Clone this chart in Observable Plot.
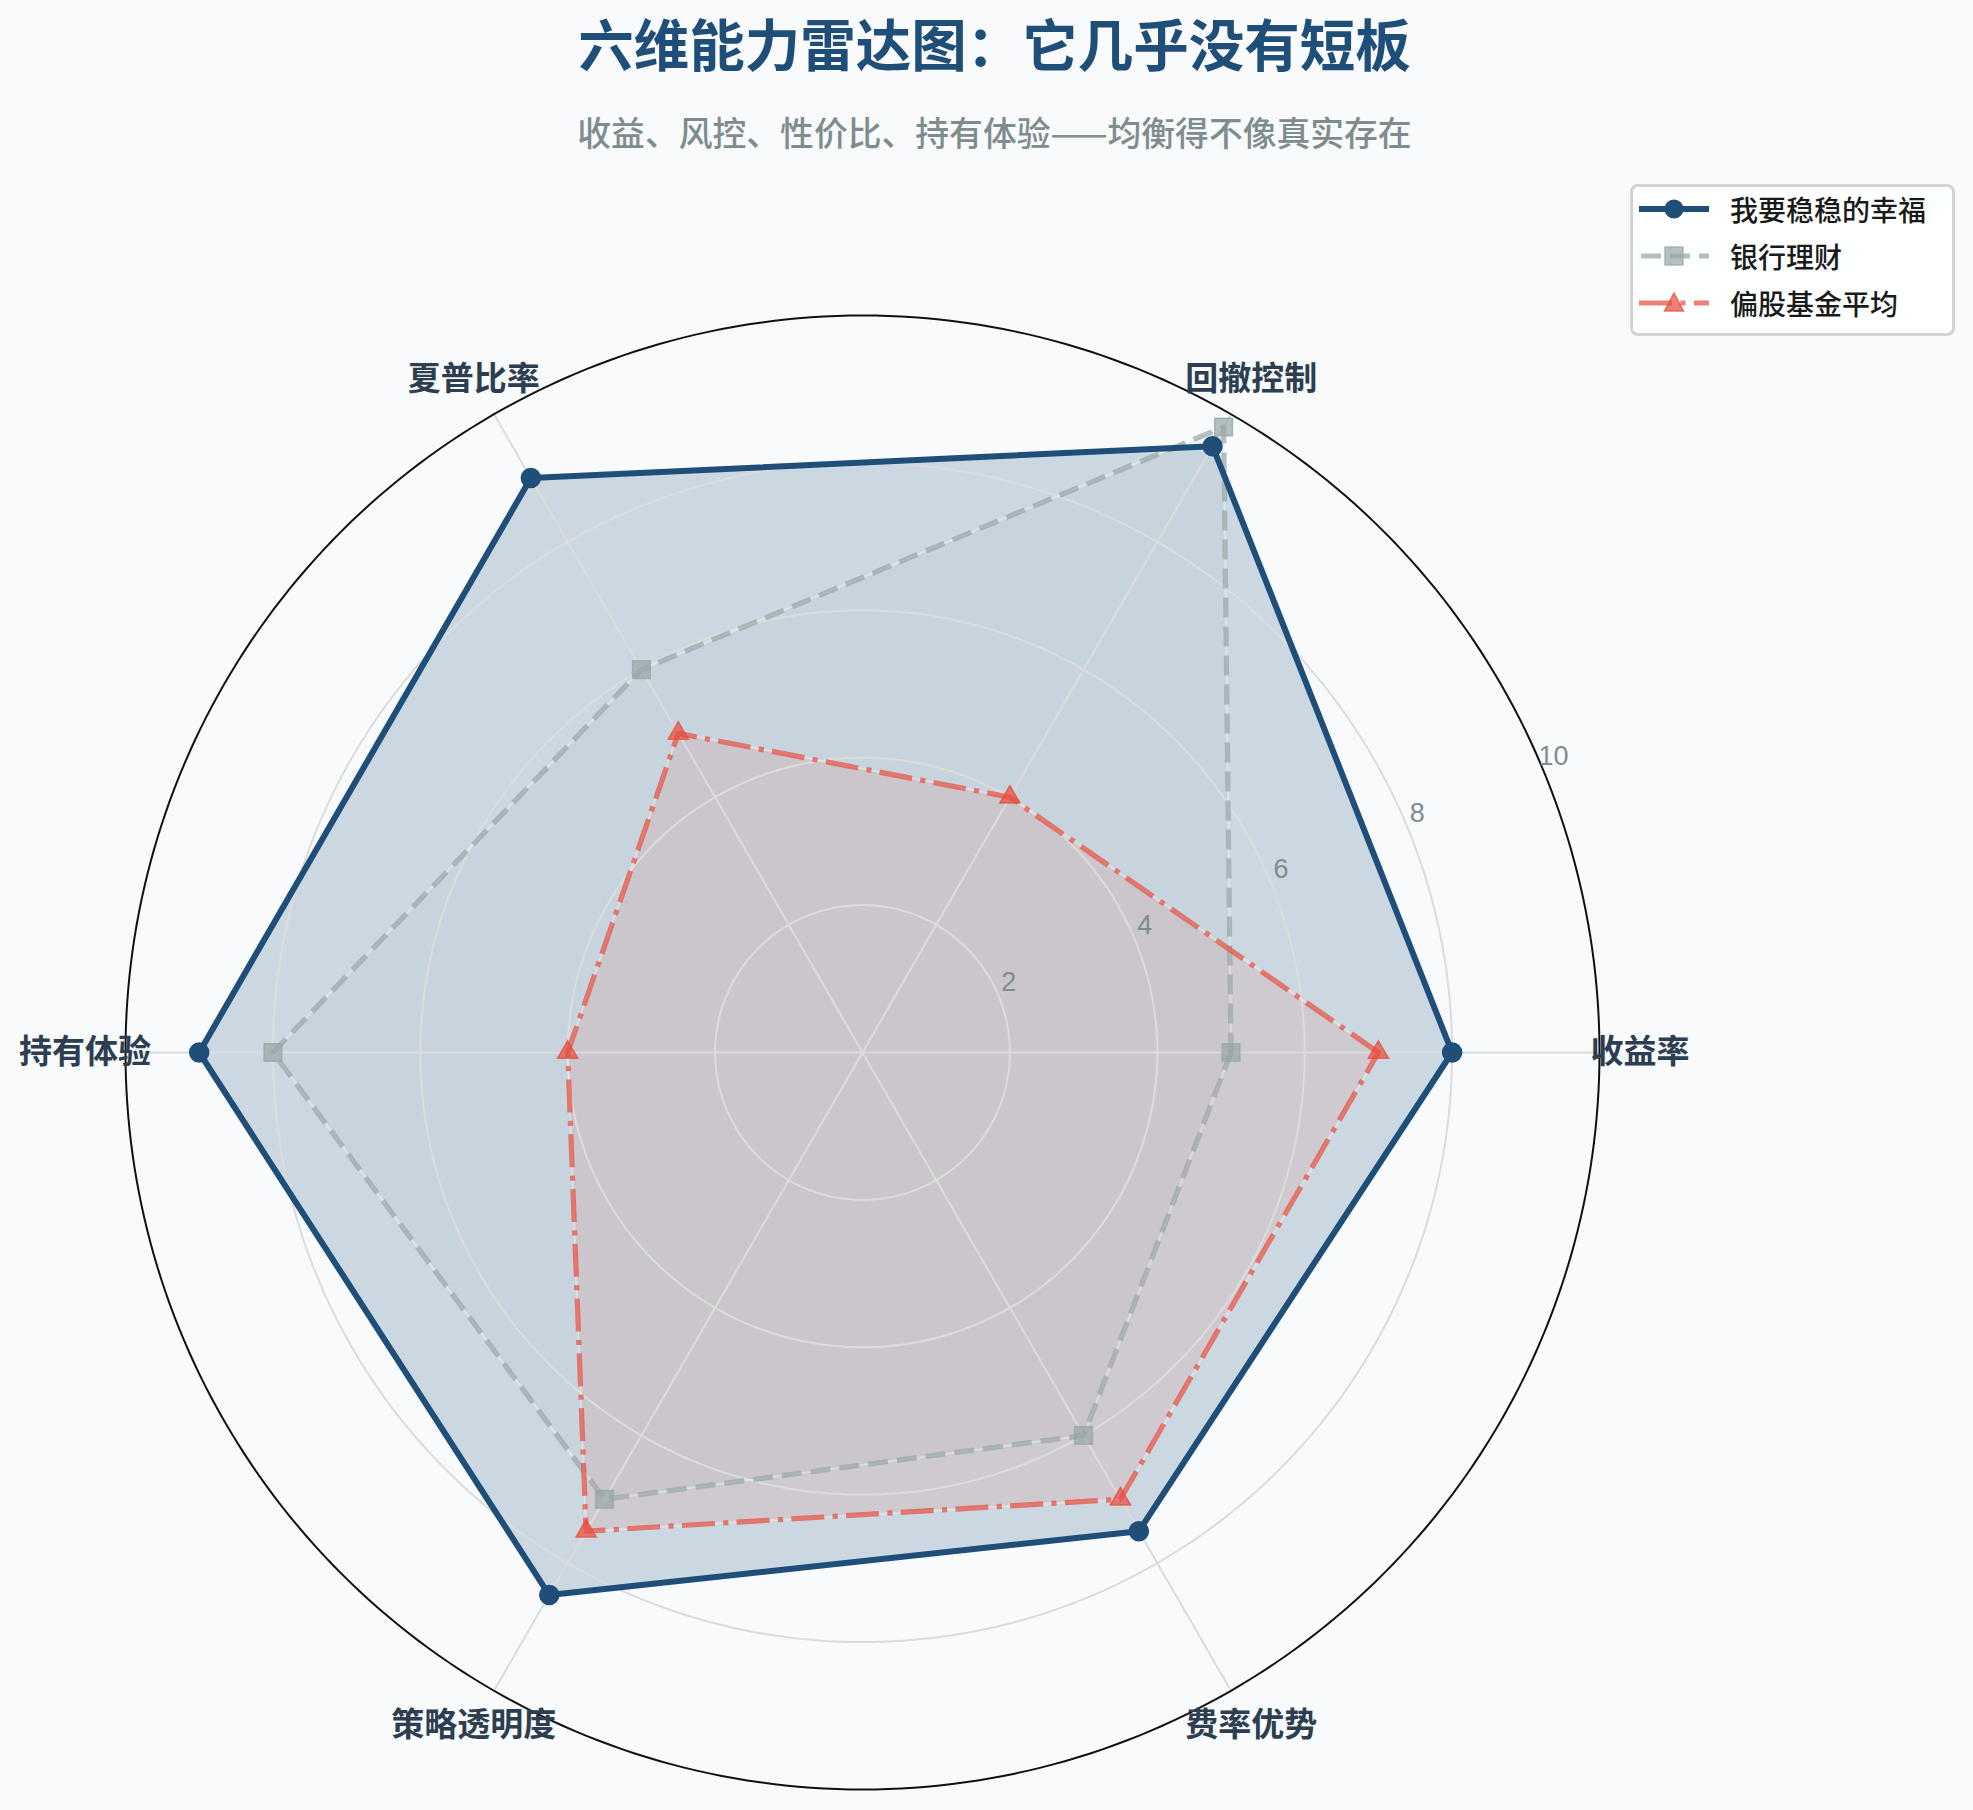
<!DOCTYPE html>
<html><head><meta charset="utf-8">
<script src="https://cdn.jsdelivr.net/npm/d3@7"></script>
<script src="https://cdn.jsdelivr.net/npm/@observablehq/plot@0.6"></script>
<style>
html,body{margin:0;padding:0;background:#f8fafc;}
body{width:1973px;height:1810px;position:relative;overflow:hidden;font-family:"Noto Sans CJK SC","Noto Sans",sans-serif;}
#header{position:relative;height:170px;}
#title{position:absolute;left:16px;right:0;top:15px;text-align:center;font-size:55.5px;font-weight:700;color:#1f4e79;line-height:1;}
#subtitle{position:absolute;left:16px;right:0;top:115px;text-align:center;font-size:33.8px;font-weight:500;color:#7f8c8d;line-height:1;}
#legend{position:absolute;left:1630px;top:184px;width:319px;height:146px;border:3px solid #d2d2d2;border-radius:8px;background:rgba(255,255,255,0.85);z-index:2;}
.row{position:absolute;left:6px;height:40px;display:flex;align-items:center;}
.row svg{display:block;}
.row span{font-size:28px;font-weight:500;color:#1a1a1a;margin-left:21px;line-height:1;white-space:nowrap;}
#chart{position:relative;}
</style></head>
<body>
<div id="header">
  <div id="title"></div>
  <div id="subtitle"></div>
</div>
<div id="legend"></div>
<div id="chart"></div>
<script>
// ---------- data ----------
const titleText = "六维能力雷达图：它几乎没有短板";
const subtitleText = "收益、风控、性价比、持有体验——均衡得不像真实存在";
const axes = ["收益率", "回撤控制", "夏普比率", "持有体验", "策略透明度", "费率优势"];
const seriesNames = ["我要稳稳的幸福", "银行理财", "偏股基金平均"];
const mine   = [8.0, 9.5, 9.0, 9.0, 8.5, 7.5];
const bank   = [5.0, 9.8, 6.0, 8.0, 7.0, 6.0];
const equity = [7.0, 4.0, 5.0, 4.0, 7.5, 7.0];
const ringTicks = [2, 4, 6, 8, 10];
const tickLabels = ["2", "4", "6", "8", "10"];

// ---------- styles / layout ----------
const rMax = 10;
const labelRadius = 10.55;
const tickAngle = 22.5 * Math.PI / 180;
const W = 1973, H = 1640, cx = 862, cy = 882, unit = 73.7;
const colors = ["#1f4e79", "#95a5a6", "#e74c3c"];
const fillOpacity = [0.2, 0.07, 0.1];
const seriesValues = [mine, bank, equity];

document.getElementById("title").textContent = titleText;
document.getElementById("subtitle").textContent = subtitleText;

const angle = i => i * 2 * Math.PI / axes.length;
const rows = seriesNames.flatMap((s, si) => axes.map((a, i) => ({
  series: s, axis: a, value: seriesValues[si][i],
  x: seriesValues[si][i] * Math.cos(angle(i)),
  y: seriesValues[si][i] * Math.sin(angle(i))
})));
const bySeries = s => rows.filter(d => d.series === s);

const ringPts = ringTicks.flatMap(r => d3.range(0, 361, 1).map(deg => ({
  r, x: r * Math.cos(deg * Math.PI / 180), y: r * Math.sin(deg * Math.PI / 180)
})));
const spokes = axes.map((a, i) => ({axis: a, i}));
const tickData = ringTicks.map((r, k) => ({r, label: tickLabels[k]}));

const lineStyles = [
  {strokeWidth: 6, dash: null},
  {strokeWidth: 5.2, dash: "20,9"},
  {strokeWidth: 5.2, dash: "33,8.3,5.2,8.3"}
];
const strokeOpacity = [1, 0.7, 0.7];
const symbols = ["circle", "square", "triangle"];
const symbolR = [9.5, 10, 7.5];

const marks = [];
// fills
seriesNames.forEach((s, si) => {
  marks.push(Plot.line(bySeries(s), {x: "x", y: "y", curve: "linear-closed",
    fill: colors[si], fillOpacity: fillOpacity[si], stroke: "none"}));
});
// grid
marks.push(Plot.line(ringPts.filter(d => d.r < rMax), {x: "x", y: "y", z: "r", stroke: "#dcdcdc", strokeWidth: 2}));
marks.push(Plot.link(spokes, {x1: () => 0, y1: () => 0,
  x2: d => rMax * Math.cos(angle(d.i)), y2: d => rMax * Math.sin(angle(d.i)),
  stroke: "#dcdcdc", strokeWidth: 2}));
marks.push(Plot.line(ringPts.filter(d => d.r === rMax), {x: "x", y: "y", stroke: "#111", strokeWidth: 2}));
// lines: bank, equity, then mine on top
[1, 2, 0].forEach(si => {
  const s = seriesNames[si];
  const st = lineStyles[si];
  if (st.dash) {
    marks.push(Plot.line(bySeries(s), {x: "x", y: "y", curve: "linear-closed",
      stroke: "#ffffff", strokeOpacity: 0.35, strokeWidth: 2}));
  }
  marks.push(Plot.line(bySeries(s), {x: "x", y: "y", curve: "linear-closed",
    stroke: colors[si], strokeOpacity: strokeOpacity[si], strokeWidth: st.strokeWidth,
    strokeDasharray: st.dash || undefined, strokeLinecap: st.dash ? "butt" : "round", strokeLinejoin: "round"}));
  marks.push(Plot.dot(bySeries(s), {x: "x", y: "y", symbol: symbols[si], r: symbolR[si],
    fill: colors[si], fillOpacity: si === 0 ? 1 : 0.7, stroke: colors[si], strokeOpacity: si === 0 ? 1 : 0.75, strokeWidth: 1.5}));
});
// axis labels
marks.push(Plot.text(spokes, {x: d => labelRadius * Math.cos(angle(d.i)), y: d => labelRadius * Math.sin(angle(d.i)),
  text: "axis", fontSize: 33, fontWeight: 600, fill: "#2c3e50", textAnchor: "middle", lineAnchor: "middle"}));
// radial tick labels
marks.push(Plot.text(tickData, {x: d => d.r * Math.cos(tickAngle), y: d => d.r * Math.sin(tickAngle),
  text: "label", fontSize: 27, fill: "#7f8c8d", textAnchor: "middle", lineAnchor: "middle", dx: 10, dy: -14,
  fontFamily: "'Liberation Sans', Arial, sans-serif"}));

const chart = Plot.plot({
  width: W, height: H, margin: 0,
  x: {domain: [-cx / unit, (W - cx) / unit], axis: null},
  y: {domain: [-(H - cy) / unit, cy / unit], axis: null},
  style: {background: "transparent", fontFamily: "'Noto Sans CJK SC', 'Noto Sans', sans-serif", overflow: "visible"},
  marks
});
document.getElementById("chart").appendChild(chart);

// legend
const legend = document.getElementById("legend");
const rowCenters = [22, 69, 116];
const swatchSvg = si => {
  const c = colors[si];
  let s = `<svg width="70" height="40" viewBox="0 0 70 40">`;
  if (si === 0) {
    s += `<line x1="0" x2="70" y1="20" y2="20" stroke="${c}" stroke-width="6"/>`;
    s += `<circle cx="35" cy="20" r="9.5" fill="${c}"/>`;
  } else if (si === 1) {
    s += `<line x1="2" x2="70" y1="20" y2="20" stroke="${c}" stroke-opacity="0.7" stroke-width="5.2" stroke-dasharray="20,9"/>`;
    s += `<rect x="26" y="11" width="18" height="18" fill="${c}" fill-opacity="0.7" stroke="${c}" stroke-opacity="0.75" stroke-width="1.5"/>`;
  } else {
    s += `<line x1="0" x2="70" y1="20" y2="20" stroke="${c}" stroke-opacity="0.7" stroke-width="5.2" stroke-dasharray="33,8.3,5.2,8.3"/>`;
    s += `<path d="M35,10 L44.5,28 L25.5,28 Z" fill="${c}" fill-opacity="0.7" stroke="${c}" stroke-opacity="0.75" stroke-width="1.5"/>`;
  }
  return s + `</svg>`;
};
seriesNames.forEach((name, si) => {
  const row = document.createElement("div");
  row.className = "row";
  row.style.top = (rowCenters[si] - 20) + "px";
  row.innerHTML = swatchSvg(si) + `<span>${name}</span>`;
  legend.appendChild(row);
});
</script>
</body></html>
